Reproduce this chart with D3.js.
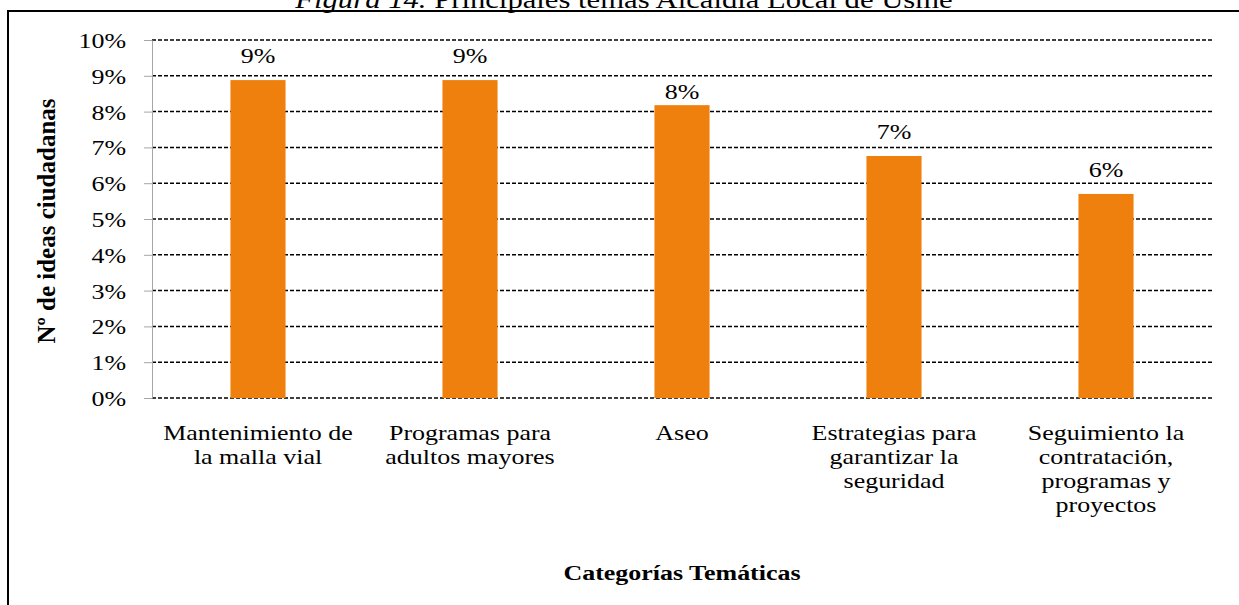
<!DOCTYPE html>
<html>
<head>
<meta charset="utf-8">
<script src="https://cdn.jsdelivr.net/npm/d3@7"></script>
<style>
  body { margin: 0; background: #fff; }
  text { font-family: "Liberation Serif", "Times New Roman", serif; fill: #000; }
</style>
</head>
<body>
<div class="chart"></div>
<script>
// data
var categories = [
	"Mantenimiento de\nla malla vial",
	"Programas para\nadultos mayores",
	"Aseo",
	"Estrategias para\ngarantizar la\nseguridad",
	"Seguimiento la\ncontratación,\nprogramas y\nproyectos"
];
var values = [0.0888, 0.0888, 0.0818, 0.0676, 0.0570];
var valueLabels = ["9%", "9%", "8%", "7%", "6%"];
var yTicks = [0, 0.01, 0.02, 0.03, 0.04, 0.05, 0.06, 0.07, 0.08, 0.09, 0.10];

var W = 1239, H = 605;
var margin = {top: 40, right: 27, bottom: 207, left: 152};
var width = W - margin.left - margin.right,
	height = H - margin.top - margin.bottom;

// the source picture is a bit wider than tall, so text is stretched sideways
var SX = 1.18;
function place(x, y) { return "translate(" + x + "," + y + ") scale(" + SX + ",1)"; }

var root = d3.select(".chart").append("svg")
	.attr("width", W)
	.attr("height", H);

root.append("rect").attr("width", W).attr("height", H).attr("fill", "#fff");

// frame (right and bottom edges are off the picture)
root.append("path")
	.attr("d", "M8,612 L8,11 L1245,11")
	.attr("fill", "none")
	.attr("stroke", "#000")
	.attr("stroke-width", 2);

// title, mostly cut off at the top
var title = root.append("text")
	.attr("transform", place(624, 8))
	.attr("text-anchor", "middle")
	.style("font-size", "26px");
title.append("tspan").style("font-style", "italic").text("Figura 14.");
title.append("tspan").text(" Principales temas Alcaldía Local de Usme");

var svg = root.append("g")
	.attr("transform", "translate(" + margin.left + "," + margin.top + ")");

var x = d3.scaleBand()
	.domain(categories)
	.range([0, width])
	.paddingInner(0.74)
	.paddingOuter(0.37);

var y = d3.scaleLinear()
	.domain([0, 0.10])
	.range([height, 0]);

// dashed gridlines
svg.append("g")
	.selectAll("line")
	.data(yTicks)
	.enter().append("line")
	.attr("x1", 0)
	.attr("x2", width)
	.attr("y1", d => y(d))
	.attr("y2", d => y(d))
	.attr("stroke", "#000")
	.attr("stroke-width", 1.5)
	.attr("stroke-dasharray", "4,2");

// y axis
var yAxis = svg.append("g")
	.call(d3.axisLeft(y).tickValues(yTicks).tickFormat(d3.format(".0%")).tickSize(8).tickSizeOuter(0));
yAxis.select(".domain").attr("stroke", "#a6a6a6");
yAxis.selectAll(".tick line").attr("stroke", "#a6a6a6");
yAxis.selectAll(".tick text")
	.attr("x", 0)
	.attr("dy", "0.34em")
	.attr("transform", place(-26, 0))
	.style("font-family", "Liberation Serif")
	.style("font-size", "22px")
	.attr("fill", "#000");

// bars
svg.append("g")
	.selectAll("rect")
	.data(values)
	.enter().append("rect")
	.attr("x", (d, i) => x(categories[i]))
	.attr("y", d => y(d))
	.attr("width", x.bandwidth())
	.attr("height", d => height - y(d))
	.attr("fill", "#f0800d");

// value labels (Excel nudged the Aseo one down)
svg.append("g")
	.selectAll("text")
	.data(values)
	.enter().append("text")
	.attr("transform", (d, i) => place(x(categories[i]) + x.bandwidth() / 2, y(d) - (i === 2 ? 6 : 17)))
	.attr("text-anchor", "middle")
	.style("font-size", "22px")
	.text((d, i) => valueLabels[i]);

// category labels
var cat = svg.append("g")
	.selectAll("text")
	.data(categories)
	.enter().append("text")
	.attr("transform", d => place(x(d) + x.bandwidth() / 2, height + 42))
	.attr("text-anchor", "middle")
	.style("font-size", "22px");
cat.selectAll("tspan")
	.data(d => d.split("\n"))
	.enter().append("tspan")
	.attr("x", 0)
	.attr("dy", (d, i) => i === 0 ? 0 : 24)
	.text(d => d);

// axis titles
svg.append("text")
	.attr("transform", place(width / 2, height + 182))
	.attr("text-anchor", "middle")
	.style("font-size", "22px")
	.style("font-weight", "bold")
	.text("Categorías Temáticas");

svg.append("text")
	.attr("transform", "translate(" + (55 - margin.left) + "," + (height / 2 + 2) + ") rotate(-90)")
	.attr("text-anchor", "middle")
	.style("font-size", "25px")
	.style("font-weight", "bold")
	.text("Nº de ideas ciudadanas");
</script>
</body>
</html>
